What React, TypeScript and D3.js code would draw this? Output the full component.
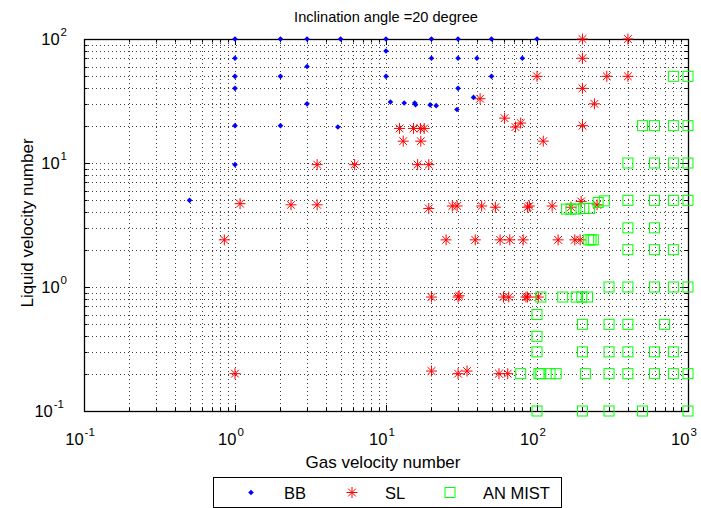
import React from "react";
import * as d3 from "d3";

const title = "Inclination angle =20 degree";
const xLabel = "Gas velocity number";
const yLabel = "Liquid velocity number";
const xTickExps = [-1, 0, 1, 2, 3];
const yTickExps = [-1, 0, 1, 2];
const seriesNames = ["BB", "SL", "AN MIST"];

const bbX = [1, 2, 3, 5, 10, 20, 30, 50, 100, 10, 1, 20, 30, 40, 80, 3, 1, 2, 10, 50, 1, 30, 3, 10.7, 13.2, 15.5, 15.7, 19.6, 21.5, 29.5, 38, 1, 2, 4.8, 1, 0.5];
const bbY = [100, 100, 100, 100, 100, 100, 100, 100, 100, 80, 70, 70, 70, 70, 70, 60, 50, 50, 50, 50, 40, 40, 30, 31, 30.5, 30.5, 29.5, 29.4, 29, 27, 33.8, 20, 20, 19.5, 9.7, 5];

const slX = [200, 400, 200, 100, 290, 400, 200, 42, 240, 61, 78, 72, 200, 12.3, 15.2, 16.9, 17.9, 13, 17, 110, 3.5, 6.2, 16.2, 19.2, 1.08, 2.35, 3.5, 19.2, 27.5, 29.6, 43, 53, 86.6, 89, 126, 168, 196, 250, 0.85, 25, 39, 57, 66, 81, 138, 178, 193, 20, 30, 30.5, 60, 65, 84.5, 86.6, 102, 1, 20, 30, 34.4, 56, 64];
const slY = [100, 100, 70, 50, 50, 50, 40, 33, 30, 23, 21, 19.5, 20, 19, 19, 19, 19, 15, 15, 15, 9.7, 9.7, 9.7, 9.7, 4.7, 4.6, 4.6, 4.3, 4.5, 4.5, 4.5, 4.4, 4.4, 4.5, 4.5, 4.4, 4.9, 4.6, 2.4, 2.4, 2.4, 2.4, 2.4, 2.4, 2.4, 2.4, 2.4, 0.83, 0.83, 0.85, 0.83, 0.83, 0.83, 0.83, 0.83, 0.2, 0.21, 0.2, 0.21, 0.2, 0.2];

const anX = [800, 1000, 500, 600, 800, 1000, 400, 600, 800, 1000, 400, 600, 800, 1000, 254, 279, 157, 168, 181, 204, 223, 400, 600, 220, 228, 236, 400, 600, 800, 300, 400, 600, 800, 1000, 106, 148, 182, 198, 216, 100, 200, 300, 400, 700, 100, 100, 200, 300, 400, 600, 800, 78, 103, 106, 122, 134, 209, 300, 400, 600, 800, 1000, 100, 200, 300, 500, 1000];
const anY = [50, 50, 20, 20, 20, 20, 10, 10, 10, 10, 5, 5, 5, 5, 4.8, 4.95, 4.25, 4.25, 4.25, 4.3, 4.3, 3, 3, 2.4, 2.4, 2.4, 2, 2, 2, 1, 1, 1, 1, 1, 0.83, 0.83, 0.83, 0.83, 0.83, 0.6, 0.5, 0.5, 0.5, 0.5, 0.4, 0.3, 0.3, 0.3, 0.3, 0.3, 0.3, 0.2, 0.2, 0.2, 0.2, 0.2, 0.2, 0.2, 0.2, 0.2, 0.2, 0.2, 0.1, 0.1, 0.1, 0.1, 0.1];

const W = 701;
const H = 508;
const L = 84, R = 688, T = 39, B = 411;
const FONT = "'Liberation Sans', Arial, Helvetica, sans-serif";

function minorTicks(lo: number, hi: number) {
  const out: { v: number; major: boolean }[] = [];
  for (let e = lo; e < hi; e++) {
    for (let m = 1; m <= 9; m++) out.push({ v: m * Math.pow(10, e), major: m === 1 });
  }
  out.push({ v: Math.pow(10, hi), major: true });
  return out;
}

function Star({ x, y }: { x: number; y: number }) {
  const r = 5.5;
  const d = r * 0.707;
  return (
    <g stroke="#ff0000" strokeWidth={1}>
      <line x1={x - r} y1={y} x2={x + r} y2={y} />
      <line x1={x} y1={y - r} x2={x} y2={y + r} />
      <line x1={x - d} y1={y - d} x2={x + d} y2={y + d} />
      <line x1={x - d} y1={y + d} x2={x + d} y2={y - d} />
    </g>
  );
}

function Sq({ x, y }: { x: number; y: number }) {
  const s = 10;
  return <rect x={x - s / 2} y={y - s / 2} width={s} height={s} fill="none" stroke="#00ff00" strokeWidth={1} />;
}

function Dot({ x, y }: { x: number; y: number }) {
  const r = 2.8;
  return <path d={`M${x},${y - r}L${x + r},${y}L${x},${y + r}L${x - r},${y}Z`} fill="#0000ff" />;
}

export default function App() {
  const xs = d3.scaleLog().domain([0.1, 1000]).range([L, R]);
  const ys = d3.scaleLog().domain([0.1, 100]).range([B, T]);
  const xt = minorTicks(-1, 3);
  const yt = minorTicks(-1, 2);

  return (
    <svg width={W} height={H} style={{ position: "absolute", left: 0, top: 0, background: "#fff" }} fontFamily={FONT}>
      <rect x={0} y={0} width={W} height={H} fill="#fff" />
      {/* grid */}
      <g stroke="#000" strokeWidth={1} strokeDasharray="1,3" opacity={0.75}>
        {xt.map((t, i) => {
          const x = Math.round(xs(t.v)) + 0.5;
          return <line key={"gx" + i} x1={x} x2={x} y1={T} y2={B} />;
        })}
        {yt.map((t, i) => {
          const y = Math.round(ys(t.v)) + 0.5;
          return <line key={"gy" + i} x1={L} x2={R} y1={y} y2={y} />;
        })}
      </g>
      {/* ticks */}
      <g stroke="#000" strokeWidth={1}>
        {xt.map((t, i) => {
          const x = Math.round(xs(t.v)) + 0.5;
          const len = t.major ? 6 : 3.5;
          return (
            <g key={"tx" + i}>
              <line x1={x} x2={x} y1={B} y2={B - len} />
              <line x1={x} x2={x} y1={T} y2={T + len} />
            </g>
          );
        })}
        {yt.map((t, i) => {
          const y = Math.round(ys(t.v)) + 0.5;
          const len = t.major ? 6 : 3.5;
          return (
            <g key={"ty" + i}>
              <line x1={L} x2={L + len} y1={y} y2={y} />
              <line x1={R} x2={R - len} y1={y} y2={y} />
            </g>
          );
        })}
      </g>
      <rect x={L + 0.5} y={T + 0.5} width={R - L} height={B - T} fill="none" stroke="#000" strokeWidth={1.3} />
      {/* tick labels */}
      {xTickExps.map((e) => {
        const x = xs(Math.pow(10, e));
        return (
          <text key={"xl" + e} x={x - 4} y={445} textAnchor="middle" fontSize={16.5} fill="#000">
            10
            <tspan dx={1} dy={-9} fontSize={11.5}>{e}</tspan>
          </text>
        );
      })}
      {yTickExps.map((e) => {
        const y = ys(Math.pow(10, e));
        const sup = String(e);
        return (
          <text key={"yl" + e} x={e < 0 ? 64 : 67} y={y + 6} textAnchor="end" fontSize={16.5} fill="#000">
            10
            <tspan dx={1} dy={-9} fontSize={11.5}>{sup}</tspan>
          </text>
        );
      })}
      {/* title & labels */}
      <text x={(L + R) / 2} y={22} textAnchor="middle" fontSize={14.6} fill="#000">{title}</text>
      <text x={(L + R) / 2 - 3} y={468} textAnchor="middle" fontSize={17} fill="#000">{xLabel}</text>
      <text transform={`translate(33,${(T + B) / 2 - 2}) rotate(-90)`} textAnchor="middle" fontSize={17} fill="#000">{yLabel}</text>
      {/* data */}
      <g>
        {bbX.map((v, i) => <Dot key={"b" + i} x={xs(v)} y={ys(bbY[i])} />)}
        {slX.map((v, i) => <Star key={"s" + i} x={xs(v)} y={ys(slY[i])} />)}
        {anX.map((v, i) => <Sq key={"a" + i} x={xs(v)} y={ys(anY[i])} />)}
      </g>
      {/* legend */}
      <g>
        <rect x={213.5} y={477.5} width={348} height={30} fill="#fff" stroke="#000" strokeWidth={1} />
        <Dot x={251} y={492.5} />
        <text x={284} y={499} fontSize={16.5} fill="#000">{seriesNames[0]}</text>
        <Star x={352} y={492.5} />
        <text x={385} y={499} fontSize={16.5} fill="#000">{seriesNames[1]}</text>
        <Sq x={450} y={492.5} />
        <text x={483} y={499} fontSize={16.5} fill="#000">{seriesNames[2]}</text>
      </g>
    </svg>
  );
}
